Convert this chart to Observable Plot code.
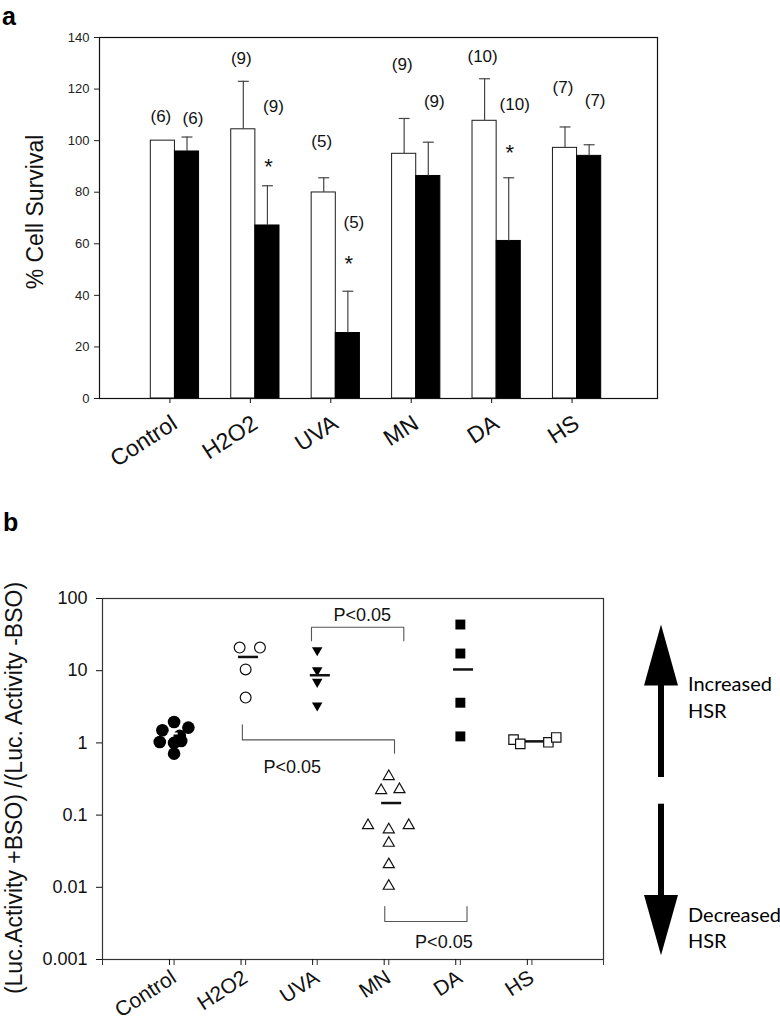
<!DOCTYPE html>
<html>
<head>
<meta charset="utf-8">
<script src="https://cdn.jsdelivr.net/npm/d3@7"></script>
<script src="https://cdn.jsdelivr.net/npm/@observablehq/plot@0.6"></script>
<style>
  html, body { margin: 0; padding: 0; background: #fff; }
  body { width: 780px; height: 1020px; position: relative; overflow: hidden; font-family: "Liberation Sans", Arial, sans-serif; }
  #panelA { position: absolute; left: 0; top: 0; }
  #panelB { position: absolute; left: 0; top: 480px; }
  #overlay { position: absolute; left: 0; top: 0; pointer-events: none; }
</style>
</head>
<body>
<div id="panelA"></div>
<div id="panelB"></div>
<svg id="overlay" width="780" height="1020" xmlns="http://www.w3.org/2000/svg">
  <text x="2" y="25" font-family="Liberation Sans, Arial, sans-serif" font-weight="bold" font-size="25">a</text>
  <text x="3" y="531" font-family="Liberation Sans, Arial, sans-serif" font-weight="bold" font-size="25">b</text>
  <g fill="#000">
    <rect x="658" y="683" width="6" height="94"></rect>
    <polygon points="661,624.6 644,685.6 678,685.6"></polygon>
    <rect x="658" y="803.7" width="6" height="93"></rect>
    <polygon points="644,895 678,895 661,955.2"></polygon>
  </g>
  <g font-family="Lato, Open Sans, sans-serif" font-size="20" fill="#000">
    <text x="688" y="690.7">Increased</text>
    <text x="688" y="717.6">HSR</text>
    <text x="688" y="921.5">Decreased</text>
    <text x="688" y="948.3">HSR</text>
  </g>
</svg>
<script>
// ---------- shared categories ----------
const categories = ["Control", "H2O2", "UVA", "MN", "DA", "HS"];

// ---------- panel a: % cell survival (white = -BSO, black = +BSO) ----------
const survivalNoBSO = [100, 104.4, 79.9, 94.9, 107.7, 97.2];
const survivalBSO   = [95.8, 67.1, 25.4, 86.3, 61.1, 94.1];
const errNoBSO      = [0, 18.6, 5.7, 13.7, 16.3, 8.1];
const errBSO        = [5.6, 15.4, 16.2, 13.1, 24.5, 4.3];
const nNoBSO        = [6, 9, 5, 9, 10, 7];
const nBSO          = [6, 9, 5, 9, 10, 7];
const nLabelNoBSO   = [109.5, 131.9, 99.5, 129.5, 132.5, 120.6];
const nLabelBSO     = [108.6, 113.4, 68.1, 115.0, 114.0, 115.7];
const starLevel     = [null, 91.9, 54.3, null, 97.0, null];
const survivalTicks = [0, 20, 40, 60, 80, 100, 120, 140];

// ---------- panel b: luciferase ratio (+BSO / -BSO) ----------
const ratioControl = [1.95, 1.63, 1.50, 1.25, 1.06, 1.03, 1.00, 0.71];
const jitterControl = [0, 0.20, -0.163, 0.08, 0.10, -0.20, 0, 0];
const ratioH2O2 = [20.9, 20.9, 10.4, 4.24];
const jitterH2O2 = [-0.084, 0.2, 0, 0];
const ratioUVA = [19.2, 10.1, 7.0, 3.3];
const jitterUVA = [0, 0, 0, 0];
const ratioMN = [0.344, 0.22, 0.227, 0.072, 0.063, 0.072, 0.041, 0.0207, 0.0104];
const jitterMN = [0, -0.107, 0.149, -0.29, 0, 0.279, 0, 0, 0];
const ratioDA = [43.6, 17.3, 3.6, 1.23];
const jitterDA = [0, 0, 0, 0];
const ratioHS = [1.11, 0.97, 1.02, 1.19];
const jitterHS = [-0.257, -0.163, 0.23, 0.34];
const groupMean = [1.35, 15.5, 8.65, 0.147, 10.4, 1.05];
const ratioTicks = [0.001, 0.01, 0.1, 1, 10, 100];

// significance brackets: from / to category, bar level, end levels, label level
const bracketFrom  = ["UVA", "H2O2", "MN"];
const bracketTo    = ["MN", "MN", "DA"];
const bracketLevel = [40, 1.1, 0.00336];
const bracketFromEnd = [26, 1.78, 0.00542];
const bracketToEnd   = [26, 0.72, 0.00542];
const bracketLabel = ["P<0.05", "P<0.05", "P<0.05"];
const bracketLabelLevel = [58.3, 0.46, 0.00175];

// ================= panel a =================
const pos = c => categories.indexOf(c) + 1;
const BW = 0.3;
const bars = categories.flatMap((c, i) => [
  {cat: c, pos: i + 1, side: -1, value: survivalNoBSO[i], err: errNoBSO[i], n: nNoBSO[i], labelY: nLabelNoBSO[i], star: null},
  {cat: c, pos: i + 1, side: 1, value: survivalBSO[i], err: errBSO[i], n: nBSO[i], labelY: nLabelBSO[i], star: starLevel[i]}
]);
const bx1 = d => d.side < 0 ? d.pos - BW : d.pos;
const bx2 = d => d.side < 0 ? d.pos : d.pos + BW;
const bxc = d => d.pos + d.side * BW / 2;
const white = bars.filter(d => d.side < 0);
const black = bars.filter(d => d.side > 0);
const withErr = bars.filter(d => d.err > 0);

const fontFamily = "Liberation Sans, Arial, sans-serif";

const chartA = Plot.plot({
  width: 780,
  height: 470,
  marginLeft: 99,
  marginRight: 123,
  marginTop: 37,
  marginBottom: 72,
  style: {fontFamily, background: "transparent", overflow: "visible"},
  x: {domain: [0.062, 7]},
  y: {domain: [0, 140]},
  marks: [
    Plot.rect(white, {x1: bx1, x2: bx2, y1: 0, y2: "value", fill: "white", stroke: "#1a1a1a", strokeWidth: 1}),
    Plot.rect(black, {x1: bx1, x2: bx2, y1: 0, y2: "value", fill: "black", stroke: "black", strokeWidth: 1}),
    Plot.ruleX(withErr, {x: bxc, y1: "value", y2: d => d.value + d.err, stroke: "#444", strokeWidth: 1.2}),
    Plot.link(withErr, {x1: d => bxc(d) - 0.068, x2: d => bxc(d) + 0.068, y1: d => d.value + d.err, y2: d => d.value + d.err, stroke: "#444", strokeWidth: 1.2}),
    Plot.text(white, {x: bxc, y: "labelY", text: d => `(${d.n})`, fontSize: 17, dx: -2, fill: "#111"}),
    Plot.text(black, {x: bxc, y: "labelY", text: d => `(${d.n})`, fontSize: 17, dx: 6, fill: "#111"}),
    Plot.text(black.filter(d => d.star != null), {x: bxc, y: "star", text: () => "*", fontSize: 22, dx: 1, dy: 5, fill: "#111"}),
    Plot.frame({stroke: "#111", strokeWidth: 1.2}),
    Plot.axisY({ticks: survivalTicks, tickSize: 5, tickPadding: 5, fontSize: 13, label: null, color: "#222"}),
    Plot.axisX({ticks: [1, 2, 3, 4, 5, 6], tickFormat: d => categories[d - 1], tickSize: 5, tickPadding: 10, tickRotate: -33, textAnchor: "end", lineAnchor: "top", fontSize: 23, label: null, dx: -5, color: "#111"}),
    Plot.text(["% Cell Survival"], {frameAnchor: "left", textAnchor: "middle", rotate: -90, dx: -64, dy: -6, fontSize: 23, fill: "#111"})
  ]
});
document.getElementById("panelA").appendChild(chartA);

// ================= panel b =================
function triangleSymbol(down) {
  return {
    draw(context, size) {
      const y = -Math.sqrt(size / (Math.sqrt(3) * 3));
      const s = down ? -1 : 1;
      context.moveTo(0, s * y * 2);
      context.lineTo(-Math.sqrt(3) * y, -s * y);
      context.lineTo(Math.sqrt(3) * y, -s * y);
      context.closePath();
    }
  };
}
const groupPoints = (cat, values, jitter) => values.map((v, i) => ({cat, pos: pos(cat), value: v, jitter: jitter[i]}));
const ptsControl = groupPoints("Control", ratioControl, jitterControl);
const ptsH2O2 = groupPoints("H2O2", ratioH2O2, jitterH2O2);
const ptsUVA = groupPoints("UVA", ratioUVA, jitterUVA);
const ptsMN = groupPoints("MN", ratioMN, jitterMN);
const ptsDA = groupPoints("DA", ratioDA, jitterDA);
const ptsHS = groupPoints("HS", ratioHS, jitterHS);
const px = d => d.pos + d.jitter;

const means = categories.map((c, i) => ({cat: c, pos: i + 1, value: groupMean[i]}));
const meanShift = {Control: -0.02, H2O2: 0.033, UVA: 0.037, MN: 0.033, DA: 0.037, HS: 0.03};
const meanHalf = {Control: 0.07, H2O2: 0.14, UVA: 0.14, MN: 0.14, DA: 0.14, HS: 0.19};
const mx1 = d => d.pos + meanShift[d.cat] - meanHalf[d.cat];
const mx2 = d => d.pos + meanShift[d.cat] + meanHalf[d.cat];
const meansHS = means.filter(d => d.cat === "HS");
const meansDark = means.filter(d => d.cat !== "Control" && d.cat !== "HS");
const meansLight = means.filter(d => d.cat === "Control");

const brackets = bracketFrom.flatMap((f, i) => {
  const a = pos(f) + (i === 0 ? -0.08 : i === 1 ? -0.046 : -0.056);
  const b = pos(bracketTo[i]) + (i === 0 ? 0.21 : i === 1 ? 0.08 : 0.093);
  return [
    {id: i, x: a, y: bracketFromEnd[i]},
    {id: i, x: a, y: bracketLevel[i]},
    {id: i, x: b, y: bracketLevel[i]},
    {id: i, x: b, y: bracketToEnd[i]}
  ];
});
const bracketTexts = bracketLabel.map((t, i) => ({
  text: t,
  x: (pos(bracketFrom[i]) + pos(bracketTo[i])) / 2 + (i === 0 ? 0.13 : i === 1 ? -0.35 : 0.27),
  y: bracketLabelLevel[i]
}));

const chartB = Plot.plot({
  width: 780,
  height: 540,
  marginLeft: 102,
  marginRight: 177,
  marginTop: 118,
  marginBottom: 61,
  style: {fontFamily, background: "transparent", overflow: "visible"},
  x: {domain: [0, 7]},
  y: {type: "log", domain: [0.001, 100]},
  marks: [
    Plot.line(brackets, {x: "x", y: "y", z: "id", stroke: "#555", strokeWidth: 1.1}),
    Plot.text(bracketTexts, {x: "x", y: "y", text: "text", fontSize: 18, fill: "#111"}),
    Plot.link(meansHS, {x1: mx1, x2: mx2, y1: "value", y2: "value", stroke: "#111", strokeWidth: 2.5}),
    Plot.dot(ptsControl, {x: px, y: "value", r: 6.3, symbol: "circle", fill: "black", stroke: "none"}),
    Plot.dot(ptsH2O2, {x: px, y: "value", r: 5.4, symbol: "circle", fill: "white", stroke: "#111", strokeWidth: 1.2}),
    Plot.dot(ptsUVA, {x: px, y: "value", r: 3.9, symbol: triangleSymbol(true), fill: "black", stroke: "none"}),
    Plot.dot(ptsMN, {x: px, y: "value", r: 4.1, symbol: triangleSymbol(false), fill: "white", stroke: "#111", strokeWidth: 1.2}),
    Plot.dot(ptsDA, {x: px, y: "value", r: 5.6, symbol: "square", fill: "black", stroke: "none"}),
    Plot.dot(ptsHS, {x: px, y: "value", r: 5.3, symbol: "square", fill: "white", stroke: "#111", strokeWidth: 1.2}),
    Plot.link(meansDark, {x1: mx1, x2: mx2, y1: "value", y2: "value", stroke: "#111", strokeWidth: 2.5}),
    Plot.link(meansLight, {x1: mx1, x2: mx2, y1: "value", y2: "value", stroke: "white", strokeWidth: 2}),
    Plot.frame({stroke: "#333", strokeWidth: 1.2}),
    Plot.axisY({ticks: ratioTicks, tickFormat: d => String(d), tickSize: 6, tickPadding: 9, fontSize: 18, label: null, color: "#111"}),
    Plot.axisX({ticks: [0, 1, 2, 3, 4, 5, 6, 7], tickFormat: () => "", tickSize: 6, label: null, color: "#333"}),
    Plot.axisX({ticks: [1, 2, 3, 4, 5, 6], tickFormat: d => categories[d - 1], tickSize: 6, tickPadding: 3, tickRotate: -33, textAnchor: "end", lineAnchor: "top", fontSize: 21, label: null, dx: -4.6, color: "#111"}),
    Plot.text(["(Luc.Activity +BSO) /(Luc. Activity -BSO)"], {frameAnchor: "left", textAnchor: "middle", rotate: -90, dx: -88, dy: 9, fontSize: 23, fill: "#111"})
  ]
});
document.getElementById("panelB").appendChild(chartB);
</script>
</body>
</html>
